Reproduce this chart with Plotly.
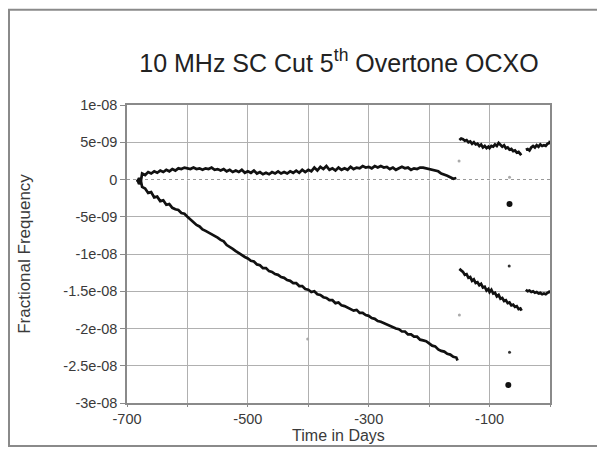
import plotly.graph_objects as go

E = 1e-9

# Main segment, upper trace (units of 1e-9)
up_days = [-683, -680, -677, -675, -670, -665, -660, -655, -650, -645, -640, -635, -630, -625, -620, -615, -610, -605, -600,
           -595, -590, -585, -580, -575, -570, -565, -560, -555, -550, -545, -540, -535, -530, -525, -520, -515, -510,
           -505, -500, -495, -490, -485, -480, -475, -470, -465, -460, -455, -450, -445, -440, -435, -430, -425, -420,
           -415, -410, -405, -400, -395, -390, -385, -380, -375, -370, -365, -360, -355, -350, -345, -340, -335, -330,
           -325, -320, -315, -310, -305, -300, -295, -290, -285, -280, -275, -270, -265, -260, -255, -250, -245, -240,
           -235, -230, -225, -220, -215, -210, -205, -200, -195, -190, -185, -180, -175, -170, -165, -160, -155]
up_vals = [-0.3, 0.2, -0.2, 0.8, 0.6, 1.0, 0.8, 1.1, 0.9, 1.2, 1.0, 1.3, 1.1, 1.4, 1.2, 1.5, 1.4, 1.6, 1.5,
           1.4, 1.6, 1.4, 1.5, 1.3, 1.5, 1.4, 1.6, 1.3, 1.4, 1.2, 1.4, 1.1, 1.3, 1.0, 1.2, 1.0, 1.3,
           0.9, 1.1, 0.9, 1.2, 0.8, 1.0, 0.7, 0.9, 0.7, 1.0, 0.8, 1.1, 0.8, 1.0, 0.8, 1.1, 0.9, 1.2,
           0.9, 1.3, 1.0, 1.3, 1.1, 1.6, 1.2, 1.7, 1.4, 1.8, 1.3, 1.5, 1.2, 1.6, 1.3, 1.5, 1.3, 1.7,
           1.4, 1.6, 1.5, 1.8, 1.6, 1.7, 1.5, 1.8, 1.6, 1.8, 1.6, 1.7, 1.4, 1.6, 1.3, 1.5, 1.7, 1.5,
           1.6, 1.3, 1.5, 1.4, 1.6, 1.6, 1.5, 1.5, 1.3, 1.2, 1.1, 0.8, 0.7, 0.5, 0.3, 0.1, 0.2]

# Main segment, lower trace
lo_days = [-683, -680, -677, -675, -670, -665, -660, -655, -650, -645, -640, -635, -630, -625, -620, -615, -610, -605, -600,
           -595, -590, -585, -580, -575, -570, -565, -560, -555, -550, -545, -540, -535, -530, -525, -520, -515, -510,
           -505, -500, -495, -490, -485, -480, -475, -470, -465, -460, -455, -450, -445, -440, -435, -430, -425, -420,
           -415, -410, -405, -400, -395, -390, -385, -380, -375, -370, -365, -360, -355, -350, -345, -340, -335, -330,
           -325, -320, -315, -310, -305, -300, -295, -290, -285, -280, -275, -270, -265, -260, -255, -250, -245, -240,
           -235, -230, -225, -220, -215, -210, -205, -200, -195, -190, -185, -180, -175, -170, -165, -160, -155, -153]
lo_vals = [0.0, -0.6, -0.2, -1.0, -1.2, -1.8, -1.7, -2.4, -2.3, -2.9, -2.8, -3.4, -3.3, -3.8, -4.0, -4.1, -4.5, -4.6, -5.0,
           -5.4, -5.7, -6.1, -6.3, -6.7, -6.9, -7.1, -7.4, -7.5, -7.8, -8.1, -8.3, -8.8, -9.0, -9.3, -9.6, -9.9, -10.1,
           -10.4, -10.6, -10.9, -11.0, -11.4, -11.5, -11.9, -11.9, -12.3, -12.4, -12.7, -12.8, -13.1, -13.2, -13.5, -13.6,
           -13.9, -13.9, -14.3, -14.3, -14.7, -14.8, -15.1, -15.0, -15.4, -15.5, -15.8, -15.9, -16.2, -16.2, -16.6, -16.5,
           -16.9, -17.0, -17.2, -17.3, -17.6, -17.5, -17.9, -17.9, -18.2, -18.3, -18.6, -18.7, -19.0, -19.1, -19.3, -19.5,
           -19.6, -19.8, -20.0, -20.1, -20.4, -20.4, -20.8, -20.8, -21.1, -21.1, -21.5, -21.6, -21.7, -22.0, -22.3, -22.4,
           -22.8, -23.0, -23.1, -23.4, -23.5, -23.8, -23.9, -24.3]

# Second segment (after jump)
up2_days = [-150, -147, -144, -141, -138, -135, -132, -129, -126, -123, -120, -117, -114, -111, -108, -105, -102, -100,
            -97, -94, -91, -88, -85, -82, -79, -76, -73, -70, -67, -64, -61, -58, -55, -52, -49, -47]
up2_vals = [5.3, 5.5, 5.4, 5.2, 5.3, 5.0, 5.1, 4.8, 5.0, 4.7, 4.8, 4.5, 4.7, 4.3, 4.5, 4.2, 4.4, 4.2,
            4.5, 4.4, 4.7, 4.5, 4.9, 4.6, 4.4, 4.6, 4.2, 4.3, 4.0, 4.1, 3.8, 3.9, 3.6, 3.7, 3.4, 3.5]
lo2_days = up2_days
lo2_vals = [-12.0, -12.2, -12.4, -12.8, -12.7, -13.2, -13.1, -13.6, -13.4, -13.9, -13.8, -14.2, -14.0, -14.5, -14.4,
            -14.9, -14.7, -15.1, -14.8, -15.3, -15.2, -15.7, -15.5, -16.0, -15.9, -16.3, -16.2, -16.6, -16.5, -16.9,
            -16.8, -17.1, -17.0, -17.4, -17.3, -17.6]

# Third segment
up3_days = [-40, -37, -34, -31, -28, -25, -22, -19, -16, -13, -10, -7, -4, -1, 0]
up3_vals = [4.0, 4.1, 3.9, 4.3, 4.5, 4.3, 4.6, 4.4, 4.7, 4.5, 4.6, 4.5, 4.8, 4.9, 5.2]
lo3_days = up3_days
lo3_vals = [-14.8, -15.0, -14.9, -15.1, -15.0, -15.2, -15.1, -15.3, -15.2, -15.4, -15.3, -15.4, -15.2, -15.1, -14.9]

# Isolated points
faint_days = [-150.5, -150, -401, -67]
faint_vals = [2.5, -18.2, -21.4, 0.3]
dark_days = [-67.5, -67]
dark_vals = [-11.6, -23.2]
big_days = [-67, -69]
big_vals = [-3.3, -27.6]

x_ticks = [-700, -500, -300, -100]
x_labels = ["-700", "-500", "-300", "-100"]
y_ticks = [1e-8, 5e-9, 0, -5e-9, -1e-8, -1.5e-8, -2e-8, -2.5e-8, -3e-8]
y_labels = ["1e-08", "5e-09", "0", "-5e-09", "-1e-08", "-1.5e-08", "-2e-08", "-2.5e-08", "-3e-08"]

fig = go.Figure()
line_style = dict(color="#111111", width=2.7)
for xs, ys in [(up_days, up_vals), (lo_days, lo_vals), (up2_days, up2_vals),
               (lo2_days, lo2_vals), (up3_days, up3_vals), (lo3_days, lo3_vals)]:
    fig.add_trace(go.Scatter(x=xs, y=[v * E for v in ys], mode="lines",
                             line=line_style, showlegend=False, hoverinfo="skip"))

fig.add_trace(go.Scatter(x=faint_days, y=[v * E for v in faint_vals], mode="markers",
                         marker=dict(color="#aaaaaa", size=3), showlegend=False))
fig.add_trace(go.Scatter(x=dark_days, y=[v * E for v in dark_vals], mode="markers",
                         marker=dict(color="#333333", size=3), showlegend=False))
fig.add_trace(go.Scatter(x=big_days, y=[v * E for v in big_vals], mode="markers",
                         marker=dict(color="#111111", size=6), showlegend=False))

# dotted zero line over the grid
fig.add_shape(type="line", xref="x", yref="y", x0=-700, x1=0, y0=0, y1=0,
              line=dict(color="white", width=1.5), layer="between")
fig.add_shape(type="line", xref="x", yref="y", x0=-700, x1=0, y0=0, y1=0,
              line=dict(color="#999999", width=1, dash="dot"), layer="between")

# The page body adds an 8px offset; layout is in page pixels minus that offset
OFF = 8
W, H = 605 - OFF, 451 - OFF
L, T = 127 - OFF, 104.5 - OFF
R, B = W - (550 - OFF), H - (403 - OFF)
pw, ph = W - L - R, H - T - B

def px_x(p):
    return (p - OFF - L) / pw

def px_y(p):
    return (H - B - (p - OFF)) / ph

fig.add_shape(type="rect", xref="paper", yref="paper",
              x0=px_x(9), x1=px_x(599), y0=px_y(446), y1=px_y(9),
              line=dict(color="#8a8a8a", width=2), layer="below")

font = "Liberation Sans, Arial, sans-serif"
fig.update_layout(
    width=W, height=H,
    margin=dict(l=L, r=R, t=T, b=B, autoexpand=False),
    paper_bgcolor="white", plot_bgcolor="white",
    font=dict(family=font, color="#3a3a3a", size=14),
    title=dict(text="10 MHz SC Cut 5<sup>th</sup> Overtone OCXO", x=(339 - OFF) / W, xanchor="center",
               y=1 - (63 - OFF) / H, yanchor="middle", yref="container",
               font=dict(family=font, size=25, color="#222222")),
    xaxis=dict(range=[-700, 0], tickvals=x_ticks, ticktext=x_labels, showgrid=True, automargin=False,
               gridcolor="#b0b0b0", gridwidth=1, zeroline=False, showline=True, linecolor="#8a8a8a",
               linewidth=1.5, mirror=True, ticks="outside", ticklen=2, tickcolor="#8a8a8a",
               minor=dict(tickmode="linear", tick0=-700, dtick=100, showgrid=True, gridcolor="#b0b0b0",
                          gridwidth=1, ticks="outside", ticklen=2, tickcolor="#8a8a8a"),
               tickfont=dict(size=14.5, color="#3a3a3a"),
               title=dict(text="Time in Days", font=dict(size=16, color="#3a3a3a"), standoff=2)),
    yaxis=dict(range=[-3e-8, 1e-8], tickvals=y_ticks, ticktext=y_labels, showgrid=True, automargin=False,
               gridcolor="#b0b0b0", gridwidth=1, zeroline=False, showline=True, linecolor="#8a8a8a",
               linewidth=1.5, mirror=True, ticks="outside", ticklen=5, tickcolor="#8a8a8a",
               tickfont=dict(size=14.5, color="#3a3a3a"),
               title=dict(text="Fractional Frequency", font=dict(size=17, color="#3a3a3a"), standoff=28)),
)

fig.write_html("out.html")
